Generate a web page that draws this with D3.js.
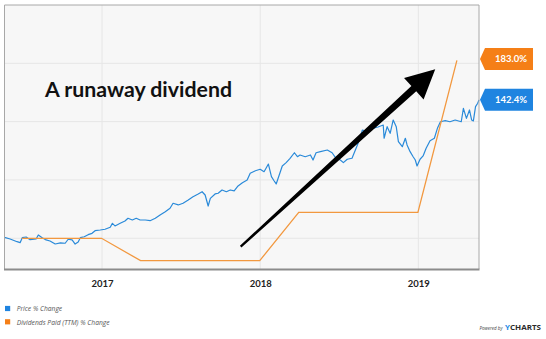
<!DOCTYPE html>
<html><head><meta charset="utf-8">
<script src="https://cdn.jsdelivr.net/npm/d3@7"></script>
<style>body{margin:0;background:#fff;} svg{display:block;}</style>
</head><body>
<svg id="c" width="546" height="339"></svg>
<script>
// ---- data ----
const startDate = "2016-05-21";
const endDate = "2019-05-21";
// price series: days after startDate and % change
const priceDay = [0,13,29,36,41,50,59,73,78,87,96,105,117,129,140,147,156,163,170,175,184,193,202,209,221,232,244,249,255,267,278,285,295,304,313,325,336,348,359,371,382,389,401,412,424,435,447,456,463,470,475,486,493,502,512,521,530,539,549,560,567,579,590,599,609,616,622,627,634,641,650,659,669,676,682,694,706,712,719,729,745,756,765,775,782,791,802,816,826,839,849,862,874,876,883,890,897,904,909,918,925,929,936,943,948,952,959,966,973,982,992,999,1006,1017,1028,1040,1054,1059,1066,1073,1078,1082,1087,1092,1095];
const priceChange = [1.0,-0.7,-3.5,-4.5,0.6,1.3,-1.4,-0.7,3.4,0.6,-1.7,-2.8,-5.9,-4.8,-5.1,-1.0,-1.7,-5.9,-3.8,0.6,1.6,3.7,5.1,7.8,8.5,9.3,11.3,15.4,12.7,15.4,17.8,20.6,18.8,20.6,18.8,18.8,18.1,20.6,24.0,27.4,30.9,36.0,34.3,36.0,39.4,42.8,45.6,47.9,44.5,33.2,41.1,45.6,46.3,49.7,47.9,49.7,48.7,53.8,57.2,60.0,66.9,69.5,71.0,68.5,76.4,63.4,59.2,55.9,65.1,74.4,77.8,82.3,88.0,83.9,85.7,83.9,85.7,80.5,88.0,89.1,90.8,88.0,82.3,80.5,77.8,81.3,82.3,97.7,111.4,109.6,113.1,114.5,116.5,102.9,114.8,108.0,121.7,114.8,99.4,94.2,102.9,96.0,89.1,83.9,80.5,74.4,81.3,84.7,92.6,100.4,102.9,113.1,119.9,121.0,119.9,121.7,119.9,133.7,123.4,132.0,121.7,120.7,135.4,138.9,142.4];
const dividendDates = ["2016-06-30","2016-12-31","2017-03-31","2017-12-31","2018-03-31","2018-12-31","2019-03-31"];
const dividendChange = [0,0,-23.0,-23.0,26.7,26.7,183.0];
const yearTicks = ["2017-01-01","2018-01-01","2019-01-01"];
const yearLabels = ["2017","2018","2019"];
const gridValues = [0,60,120,180];
const yDomain = [-31.6, 240];
const seriesNames = ["Price % Change","Dividends Paid (TTM) % Change"];
const lastValueLabels = ["142.4%","183.0%"];
const lastValues = [142.4, 183.0];
const titleText = "A runaway dividend";
const arrowFromDate = "2017-11-17", arrowFromValue = -8.6;
const arrowToDate = "2019-02-09", arrowToValue = 174;

// ---- drawing ----
const parse = d3.timeParse("%Y-%m-%d");
const t0 = parse(startDate);
const svg = d3.select("#c");
const L = 4.5, R = 479, T = 5, B = 269;
const x = d3.scaleTime().domain([t0, parse(endDate)]).range([L, R]);
const y = d3.scaleLinear().domain(yDomain).range([B, T]);
const blue = "#2a8ad9", orange = "#f2983f", blueFlag = "#1f84e0", orangeFlag = "#f57f17";

svg.append("rect").attr("x",0).attr("y",0).attr("width",546).attr("height",339).attr("fill","#fff");
svg.append("rect").attr("x",L).attr("y",T).attr("width",R-L).attr("height",B-T).attr("fill","#f7f7f7");

// grid
svg.append("g").selectAll("line").data(gridValues).join("line")
  .attr("x1",L).attr("x2",R).attr("y1",d=>y(d)).attr("y2",d=>y(d))
  .attr("stroke","#e6e6e6").attr("stroke-width",1);
svg.append("g").selectAll("line").data(yearTicks).join("line")
  .attr("x1",d=>x(parse(d))).attr("x2",d=>x(parse(d))).attr("y1",T).attr("y2",B)
  .attr("stroke","#e6e6e6").attr("stroke-width",1);

// x axis labels
const xAxis = d3.axisBottom(x).tickValues(yearTicks.map(parse)).tickSize(0).tickPadding(0)
  .tickFormat((d,i)=>yearLabels[i]);
const gx = svg.append("g").attr("transform",`translate(0,${B})`).call(xAxis);
gx.select(".domain").remove();
gx.selectAll("text").attr("dy",null).attr("y",18)
  .attr("font-family","Lato, 'Open Sans', sans-serif").attr("font-weight","bold")
  .attr("font-size","9.5px").attr("fill","#222");

// lines
const priceData = priceDay.map((d,i)=>({date:d3.timeDay.offset(t0,d), v:priceChange[i]}));
const divData = dividendDates.map((d,i)=>({date:parse(d), v:dividendChange[i]}));
const line = d3.line().x(d=>x(d.date)).y(d=>y(d.v));
svg.append("path").datum(priceData).attr("d",line).attr("fill","none")
  .attr("stroke",blue).attr("stroke-width",1.2).attr("stroke-linejoin","round");
svg.append("path").datum(divData).attr("d",line).attr("fill","none")
  .attr("stroke",orange).attr("stroke-width",1.3);

// border
svg.append("path").attr("d",`M${L},${B}V${T}H${R}V${B}`).attr("fill","none")
  .attr("stroke","#a8a8a8").attr("stroke-width",1);
svg.append("line").attr("x1",L-0.5).attr("x2",R+0.5).attr("y1",B+0.5).attr("y2",B+0.5)
  .attr("stroke","#8c8c8c").attr("stroke-width",2);

// arrow annotation
(function(){
  const x1 = x(parse(arrowFromDate)), y1 = y(arrowFromValue);
  const x2 = x(parse(arrowToDate)), y2 = y(arrowToValue);
  const dx = x2-x1, dy = y2-y1, len = Math.hypot(dx,dy);
  const ux = dx/len, uy = dy/len, nx = -uy, ny = ux;
  const headLen = 29, headHalf = 14.5, w0 = 1.1, w1 = 3.6;
  const bx = x2-ux*headLen, by = y2-uy*headLen;
  const pts = [
    [x1+nx*w0, y1+ny*w0], [bx+nx*w1, by+ny*w1], [bx+nx*headHalf, by+ny*headHalf],
    [x2, y2], [bx-nx*headHalf, by-ny*headHalf], [bx-nx*w1, by-ny*w1], [x1-nx*w0, y1-ny*w0]
  ];
  svg.append("path").attr("d","M"+pts.map(p=>p.join(",")).join("L")+"Z").attr("fill","#000");
})();

// title
svg.append("text").attr("x",45).attr("y",97.3).text(titleText)
  .attr("font-family","Lato, 'Open Sans', sans-serif").attr("font-weight","bold")
  .attr("font-size","21.5px").attr("fill","#111")
  .attr("textLength",187).attr("lengthAdjust","spacingAndGlyphs");

// last value flags
const flagColors = [blueFlag, orangeFlag];
lastValues.forEach((v,i)=>{
  const cy = y(v) - (i===1 ? 1.5 : 0);
  const x0 = R+1, h = 11;
  svg.append("path").attr("d",`M${x0},${cy}L${x0+5},${cy-h}H533V${cy+h}H${x0+5}Z`).attr("fill",flagColors[i]);
  svg.append("text").attr("x",511).attr("y",cy+3.3).attr("text-anchor","middle").text(lastValueLabels[i])
    .attr("font-family","Lato, 'Open Sans', sans-serif").attr("font-weight","bold")
    .attr("font-size","9.5px").attr("fill","#fff");
});

// legend
const legColors = [blue.replace("#2a8ad9","#1f84e0"), orangeFlag];
const legWidths = [45.5, 93];
seriesNames.forEach((n,i)=>{
  const cy = 308.5 + i*13.3;
  svg.append("rect").attr("x",5).attr("y",cy-2.6).attr("width",5.2).attr("height",5.2).attr("fill",legColors[i]);
  svg.append("text").attr("x",16.7).attr("y",cy+2.8).text(n)
    .attr("font-family","'Open Sans', sans-serif").attr("font-style","italic")
    .attr("font-size","8px").attr("fill","#555")
    .attr("textLength",legWidths[i]).attr("lengthAdjust","spacingAndGlyphs");
});

// powered by
svg.append("text").attr("x",479.5).attr("y",329.5).text("Powered by")
  .attr("font-family","'Open Sans', sans-serif").attr("font-style","italic")
  .attr("font-size","5px").attr("fill","#444").attr("textLength",23).attr("lengthAdjust","spacingAndGlyphs");
const yc = svg.append("text").attr("x",505).attr("y",330.2)
  .attr("font-family","'Open Sans', sans-serif").attr("font-weight","bold").attr("font-size","7.5px")
  .attr("textLength",36).attr("lengthAdjust","spacingAndGlyphs");
yc.append("tspan").attr("fill","#1e88e5").text("Y");
yc.append("tspan").attr("fill","#2b2b2b").text("CHARTS");
</script>
</body></html>
